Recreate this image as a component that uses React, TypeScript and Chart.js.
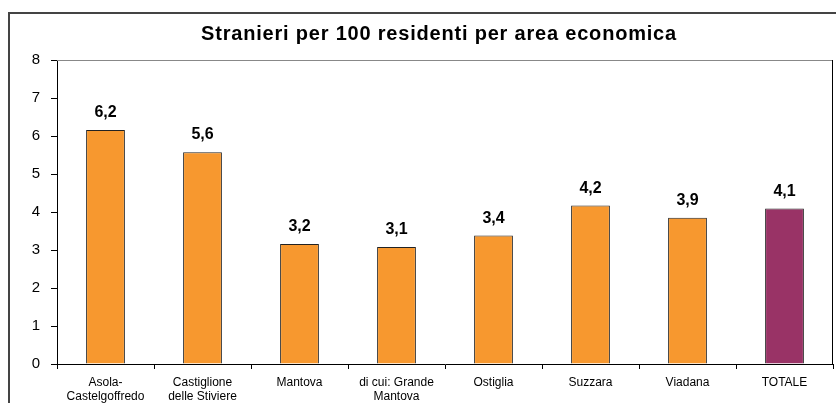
import React, { useEffect, useRef } from "react";
import { Chart, registerables } from "chart.js";

Chart.register(...registerables);

const titleText = "Stranieri per 100 residenti per area economica";
const categories: (string | string[])[] = [
  ["Asola-", "Castelgoffredo"],
  ["Castiglione", "delle Stiviere"],
  "Mantova",
  ["di cui: Grande", "Mantova"],
  "Ostiglia",
  "Suzzara",
  "Viadana",
  "TOTALE",
];
const values = [6.16, 5.57, 3.16, 3.08, 3.38, 4.17, 3.85, 4.09];
const valueLabels = ["6,2", "5,6", "3,2", "3,1", "3,4", "4,2", "3,9", "4,1"];
const barColors = ["#F7982F", "#F7982F", "#F7982F", "#F7982F", "#F7982F", "#F7982F", "#F7982F", "#993366"];
const yTicks = [0, 1, 2, 3, 4, 5, 6, 7, 8];

const decorPlugin = {
  id: "decor",
  beforeDraw(chart: any) {
    const ctx = chart.ctx;
    ctx.save();
    ctx.fillStyle = "#ffffff";
    ctx.fillRect(0, 0, chart.width, chart.height);
    ctx.strokeStyle = "#444444";
    ctx.lineWidth = 2;
    ctx.strokeRect(9, 13, chart.width + 10, chart.height + 10);
    ctx.restore();
  },
  afterDraw(chart: any) {
    const ctx = chart.ctx;
    const a = chart.chartArea;
    ctx.save();
    ctx.strokeStyle = "#888888";
    ctx.lineWidth = 1;
    ctx.beginPath();
    ctx.moveTo(a.left, a.top + 0.5);
    ctx.lineTo(a.right, a.top + 0.5);
    ctx.stroke();
    ctx.strokeStyle = "#000000";
    ctx.beginPath();
    ctx.moveTo(a.right - 0.5, a.top);
    ctx.lineTo(a.right - 0.5, a.bottom);
    ctx.stroke();
    // title
    ctx.fillStyle = "#000000";
    ctx.font = "bold 20px Arial, 'Liberation Sans', sans-serif";
    (ctx as any).letterSpacing = "0.8px";
    ctx.textAlign = "center";
    ctx.textBaseline = "alphabetic";
    ctx.fillText(titleText, 439, 40);
    (ctx as any).letterSpacing = "0px";
    // value labels
    const meta = chart.getDatasetMeta(0);
    ctx.font = "bold 16px Arial, 'Liberation Sans', sans-serif";
    meta.data.forEach((bar: any, i: number) => {
      ctx.fillText(valueLabels[i], bar.x, bar.y - 13);
    });
    ctx.restore();
  },
};

export default function App() {
  const ref = useRef<HTMLCanvasElement>(null);
  useEffect(() => {
    if (!ref.current) return;
    const chart = new Chart(ref.current, {
      type: "bar",
      data: {
        labels: categories,
        datasets: [
          {
            data: values,
            backgroundColor: barColors,
            borderColor: "#222222",
            borderWidth: 1,
            barPercentage: 0.8,
            categoryPercentage: 0.5,
          },
        ],
      },
      options: {
        responsive: false,
        animation: false,
        layout: { padding: { left: 0, right: 3, top: 60, bottom: 0 } },
        plugins: {
          legend: { display: false },
          title: { display: false },
          tooltip: { enabled: false },
        },
        scales: {
          x: {
            afterFit: (s: any) => {
              s.height = 39;
            },
            grid: {
              offset: true,
              drawOnChartArea: false,
              drawTicks: true,
              tickLength: 5,
              color: "#000000",
            },
            border: { color: "#000000", width: 1 },
            ticks: {
              color: "#000000",
              font: { family: "Arial, 'Liberation Sans', sans-serif", size: 12, lineHeight: 1.15 },
              maxRotation: 0,
              autoSkip: false,
              padding: 7,
            },
          },
          y: {
            min: 0,
            max: 8,
            afterFit: (s: any) => {
              s.width = 57;
            },
            afterBuildTicks: (s: any) => {
              s.ticks = yTicks.map((v) => ({ value: v }));
            },
            grid: {
              drawOnChartArea: false,
              drawTicks: true,
              tickLength: 6,
              color: "#000000",
            },
            border: { color: "#000000", width: 1 },
            ticks: {
              color: "#000000",
              font: { family: "Arial, 'Liberation Sans', sans-serif", size: 15 },
              padding: 11,
            },
          },
        },
      },
      plugins: [decorPlugin],
    });
    return () => chart.destroy();
  }, []);
  return (
    <div style={{ position: "fixed", left: 0, top: 0, width: 836, height: 403, background: "#fff" }}>
      <canvas ref={ref} width={836} height={403} style={{ width: 836, height: 403, display: "block" }} />
    </div>
  );
}
